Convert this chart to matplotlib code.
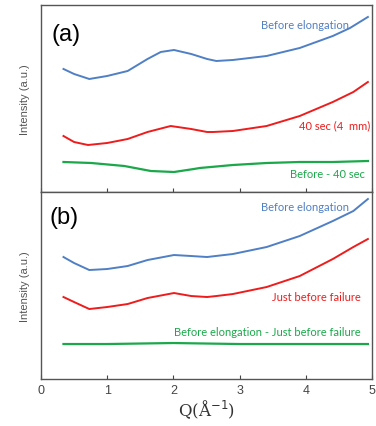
import matplotlib.pyplot as plt

# panel (a)
qa_blue = [0.34, 0.5, 0.73, 1.0, 1.31, 1.61, 1.81, 2.01, 2.27, 2.51, 2.65, 2.9, 3.41, 3.91, 4.41, 4.67, 4.94]
ia_blue = [123, 118, 113, 116, 121, 133, 140, 142, 138, 133, 131, 132, 136, 144, 156, 164, 175]
qa_red = [0.34, 0.5, 0.71, 1.0, 1.31, 1.61, 1.96, 2.27, 2.51, 2.6, 2.9, 3.41, 3.91, 4.41, 4.72, 4.94]
ia_red = [56, 50, 47, 49, 53, 60, 66, 63, 60, 60, 61, 66, 76, 90, 100, 110]
qa_green = [0.34, 0.76, 1.26, 1.66, 2.01, 2.31, 2.4, 2.9, 3.41, 3.91, 4.41, 4.94]
ia_green = [30, 29, 26, 21, 20, 23, 24, 27, 29, 30, 30, 31]

# panel (b)
qb_blue = [0.34, 0.5, 0.73, 1.0, 1.31, 1.61, 2.01, 2.27, 2.51, 2.9, 3.41, 3.91, 4.41, 4.72, 4.94]
ib_blue = [122, 116, 109, 110, 113, 119, 124, 123, 122, 125, 132, 143, 158, 168, 180]
qb_red = [0.34, 0.5, 0.73, 1.0, 1.31, 1.61, 2.01, 2.27, 2.51, 2.65, 2.9, 3.41, 3.91, 4.41, 4.72, 4.94]
ib_red = [82, 77, 70, 72, 75, 81, 86, 83, 82, 83, 85, 92, 103, 120, 132, 140]
qb_green = [0.34, 1.0, 2.0, 3.0, 4.0, 4.94]
ib_green = [35, 35, 36, 35, 35, 35]

xticks = [0, 1, 2, 3, 4, 5]

c_blue = '#4f7fc4'
c_red = '#ee1c1c'
c_green = '#1aa84a'
label_font = ['Lato', 'DejaVu Sans']
arial = ['Liberation Sans', 'DejaVu Sans']

fig = plt.figure(figsize=(3.76, 4.27), dpi=100)
ax1 = fig.add_axes([0.109, 0.548, 0.880, 0.438])
ax2 = fig.add_axes([0.109, 0.110, 0.880, 0.438])

ax1.plot(qa_blue, ia_blue, color=c_blue, lw=1.4)
ax1.plot(qa_red, ia_red, color=c_red, lw=1.4)
ax1.plot(qa_green, ia_green, color=c_green, lw=1.6)

ax2.plot(qb_blue, ib_blue, color=c_blue, lw=1.4)
ax2.plot(qb_red, ib_red, color=c_red, lw=1.4)
ax2.plot(qb_green, ib_green, color=c_green, lw=1.6)

for ax in (ax1, ax2):
    ax.set_xlim(0, 5)
    ax.set_ylim(0, 187)
    ax.set_yticks([])
    ax.set_xticks(xticks)
    ax.tick_params(axis='x', direction='in', length=3, colors='#444444', labelsize=9)
    for s in ax.spines.values():
        s.set_color('#555555')
        s.set_linewidth(1.0)
    ax.set_ylabel('Intensity (a.u.)', fontsize=8, color='#555555', labelpad=8, family=arial)

ax1.set_xticklabels([])
ax2.set_xticklabels([str(t) for t in xticks], color='#444444', family=arial)
ax2.set_xlabel('Q(Å$^{-1}$)', fontsize=12, family='DejaVu Serif', color='#333333', labelpad=1)

# annotations, panel (a)
ax1.text(0.033, 0.845, '(a)', transform=ax1.transAxes, fontsize=17, va='center', ha='left',
         family=arial)
ax1.text(0.93, 0.895, 'Before elongation', transform=ax1.transAxes, fontsize=8,
         color=c_blue, ha='right', va='center', family=label_font)
ax1.text(0.995, 0.36, '40 sec (4  mm)', transform=ax1.transAxes, fontsize=8,
         color=c_red, ha='right', va='center', family=label_font)
ax1.text(0.98, 0.10, 'Before - 40 sec', transform=ax1.transAxes, fontsize=8,
         color=c_green, ha='right', va='center', family=label_font)

# annotations, panel (b)
ax2.text(0.025, 0.866, '(b)', transform=ax2.transAxes, fontsize=17, va='center', ha='left',
         family=arial)
ax2.text(0.93, 0.925, 'Before elongation', transform=ax2.transAxes, fontsize=8,
         color=c_blue, ha='right', va='center', family=label_font)
ax2.text(0.965, 0.44, 'Just before failure', transform=ax2.transAxes, fontsize=8,
         color=c_red, ha='right', va='center', family=label_font)
ax2.text(0.965, 0.255, 'Before elongation - Just before failure', transform=ax2.transAxes,
         fontsize=8, color=c_green, ha='right', va='center', family=label_font)

plt.savefig('out.png', dpi=100)
